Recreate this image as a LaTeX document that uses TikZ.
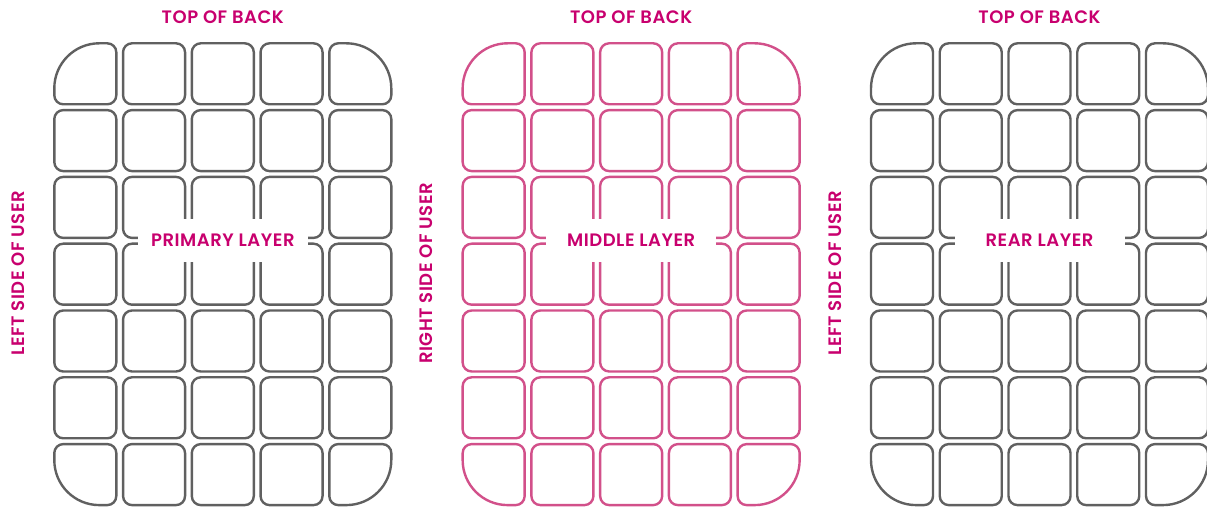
\documentclass[tikz,border=0pt]{standalone}
\usepackage{fontspec}
\setmainfont{Poppins}[BoldFont={Poppins SemiBold},LetterSpace=3]
\definecolor{greyline}{HTML}{606060}
\definecolor{pinkline}{HTML}{D2508A}
\definecolor{labelcol}{HTML}{C8006E}
% #1 style, #2 x left, #3 y top, #4 rTL, #5 rTR, #6 rBR, #7 rBL
\newcommand\seatcell[7]{%
  \draw[#1] ({#2+#4},#3) -- ({#2+62-#5},#3)
    arc[start angle=90,end angle=0,radius=#5pt] -- ({#2+62},{#3-61+#6})
    arc[start angle=0,end angle=-90,radius=#6pt] -- ({#2+#7},{#3-61})
    arc[start angle=270,end angle=180,radius=#7pt] -- (#2,{#3-#4})
    arc[start angle=180,end angle=90,radius=#4pt] -- cycle;}
\begin{document}
\begin{tikzpicture}[x=1pt,y=1pt,
  cellgrey/.style={draw=greyline,line width=2.4pt},
  cellpink/.style={draw=pinkline,line width=2.4pt},
  lbl/.style={text=labelcol,font=\fontsize{18}{21}\selectfont\bfseries,inner sep=0pt},
  layerbox/.style={lbl,fill=white,minimum width=170pt,minimum height=43pt}]
\useasboundingbox (0,0) rectangle (1207,508);
\foreach \g/\sty in {0/cellgrey,1/cellpink,2/cellgrey}{
  \foreach \i in {0,...,4}{
    \foreach \j in {0,...,6}{
      \pgfmathsetmacro\xl{54.3+\g*408.35+\i*68.75}
      \pgfmathsetmacro\yt{464.7-\j*66.8}
      \pgfmathsetmacro\rtl{(\i==0 && \j==0) ? 45 : 9}
      \pgfmathsetmacro\rtr{(\i==4 && \j==0) ? 45 : 9}
      \pgfmathsetmacro\rbr{(\i==4 && \j==6) ? 45 : 9}
      \pgfmathsetmacro\rbl{(\i==0 && \j==6) ? 45 : 9}
      \seatcell{\sty}{\xl}{\yt}{\rtl}{\rtr}{\rbr}{\rbl}
    }
  }
}
\foreach \g/\side/\layer in {0/LEFT SIDE OF USER/PRIMARY LAYER,1/RIGHT SIDE OF USER/MIDDLE LAYER,2/LEFT SIDE OF USER/REAR LAYER}{
  \node[lbl] (top\g) at ({222.8+\g*408.35},491.3) {TOP OF BACK};
  \node[lbl,rotate=90] (side\g) at ({18.3+\g*408.35},234.5) {\side};
  \node[layerbox] (layer\g) at ({222.8+\g*408.35},267.5) {\layer};
}
\end{tikzpicture}
\end{document}
